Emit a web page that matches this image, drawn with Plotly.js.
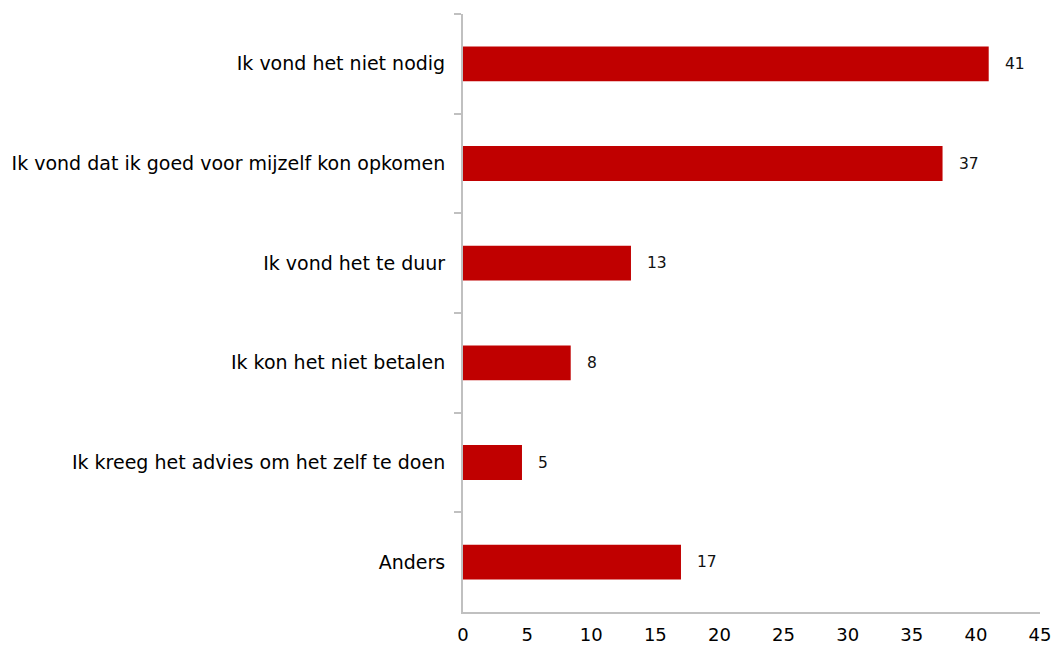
<!DOCTYPE html>
<html>
<head>
<meta charset="utf-8">
<script src="https://cdn.plot.ly/plotly-3.0.1.min.js"></script>
<style>html,body{margin:0;padding:0;background:#fff;}#chart{width:1055px;height:645px;}</style>
</head>
<body>
<div id="chart"></div>
<script>
const categories = [
  "Ik vond het niet nodig",
  "Ik vond dat ik goed voor mijzelf kon opkomen",
  "Ik vond het te duur",
  "Ik kon het niet betalen",
  "Ik kreeg het advies om het zelf te doen",
  "Anders"
];
const values = [41.0, 37.4, 13.1, 8.4, 4.6, 17.0];
const valueLabels = ["41", "37", "13", "8", "5", "17"];
const xTicks = [0, 5, 10, 15, 20, 25, 30, 35, 40, 45];

const fontFamily = "Verdana, 'DejaVu Sans', sans-serif";

const trace = {
  type: "bar",
  orientation: "h",
  x: values,
  y: categories,
  width: 0.35,
  marker: { color: "#C00000", line: { color: "#C00000", width: 0 } },
  hoverinfo: "none"
};

const annotations = values.map((v, i) => ({
  x: v, y: categories[i], xref: "x", yref: "y",
  text: valueLabels[i], showarrow: false,
  xanchor: "left", xshift: 14,
  font: { family: fontFamily, size: 15.5, color: "#111" }
}));

const layout = {
  width: 1055, height: 645,
  margin: { l: 463, r: 15, t: 14, b: 33 },
  paper_bgcolor: "#fff", plot_bgcolor: "#fff",
  showlegend: false,
  xaxis: {
    range: [0, 45], tickvals: xTicks, ticktext: xTicks.map(String),
    showgrid: false, zeroline: false,
    showline: true, linecolor: "#c0c0c0", linewidth: 2,
    ticks: "", ticklabelstandoff: 5,
    tickfont: { family: fontFamily, size: 18, color: "#000" },
    fixedrange: true
  },
  yaxis: {
    type: "category", categoryorder: "array", categoryarray: categories,
    autorange: "reversed",
    showgrid: false, zeroline: false,
    showline: true, linecolor: "#c0c0c0", linewidth: 2,
    ticks: "outside", tickson: "boundaries", ticklen: 7, tickcolor: "#c0c0c0", tickwidth: 2,
    ticklabelstandoff: 12,
    tickfont: { family: fontFamily, size: 19, color: "#000" },
    fixedrange: true
  },
  annotations: annotations
};

Plotly.newPlot("chart", [trace], layout, { displayModeBar: false, staticPlot: true });
</script>
</body>
</html>
